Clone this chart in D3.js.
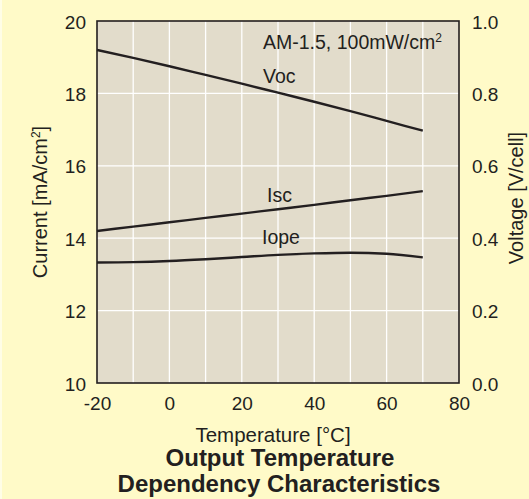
<!DOCTYPE html>
<html>
<head>
<meta charset="utf-8">
<script src="https://cdn.jsdelivr.net/npm/d3@7"></script>
<style>
  html, body { margin: 0; padding: 0; background: #fffac8; }
  svg { display: block; font-family: "Liberation Sans", Arial, sans-serif; }
</style>
</head>
<body>
<svg id="chart" width="529" height="499"></svg>
<script>
// temperature samples [°C]
const temps = [-20, -10, 0, 10, 20, 30, 40, 50, 60, 70];
// open circuit voltage [V/cell] (right axis)
const voc = [0.920, 0.898, 0.875, 0.851, 0.827, 0.802, 0.777, 0.751, 0.724, 0.697];
// short circuit current [mA/cm2]
const isc = [14.20, 14.32, 14.44, 14.56, 14.68, 14.80, 14.92, 15.05, 15.17, 15.30];
// operating current [mA/cm2]
const iope = [13.33, 13.34, 13.37, 13.42, 13.48, 13.54, 13.58, 13.60, 13.57, 13.47];

const xTicks = [-20, 0, 20, 40, 60, 80];
const xGrid = d3.range(-10, 80, 10);
const yTicks = [10, 12, 14, 16, 18, 20];
const vTicks = [0, 0.2, 0.4, 0.6, 0.8, 1.0];

const ink = "#231f20";
const svg = d3.select("#chart");
const width = 529, height = 499;
const margin = { top: 21, right: 70, bottom: 116, left: 97 };
const innerWidth = width - margin.left - margin.right;
const innerHeight = height - margin.top - margin.bottom;

// thin lighter strip on the left edge
svg.append("rect").attr("x", 0).attr("y", 0).attr("width", 2).attr("height", height).attr("fill", "#fffde6");

const g = svg.append("g").attr("transform", `translate(${margin.left},${margin.top})`);

const xScale = d3.scaleLinear().domain([-20, 80]).range([0, innerWidth]);
const yScale = d3.scaleLinear().domain([10, 20]).range([innerHeight, 0]);
const vScale = d3.scaleLinear().domain([0, 1]).range([innerHeight, 0]);

g.append("rect")
    .attr("width", innerWidth)
    .attr("height", innerHeight)
    .attr("fill", "#e2dccb");

// grid
g.selectAll(".vgrid").data(xGrid).enter().append("line")
    .attr("x1", d => xScale(d)).attr("x2", d => xScale(d))
    .attr("y1", 0).attr("y2", innerHeight)
    .attr("stroke", "#fff").attr("stroke-width", 1.3);
g.selectAll(".hgrid").data(yTicks.slice(1, -1)).enter().append("line")
    .attr("x1", 0).attr("x2", innerWidth)
    .attr("y1", d => yScale(d)).attr("y2", d => yScale(d))
    .attr("stroke", "#fff").attr("stroke-width", 1.3);

g.append("rect")
    .attr("width", innerWidth)
    .attr("height", innerHeight)
    .attr("fill", "none")
    .attr("stroke", ink)
    .attr("stroke-width", 1.6);

// axes (labels only)
const xAxis = d3.axisBottom(xScale).tickValues(xTicks).tickSize(0).tickPadding(13).tickFormat(d => String(d));
const yAxis = d3.axisLeft(yScale).tickValues(yTicks).tickSize(0).tickPadding(11).tickFormat(d => String(d));
const vAxis = d3.axisRight(vScale).tickValues(vTicks).tickSize(0).tickPadding(13).tickFormat(d => d.toFixed(1));

const xg = g.append("g").attr("transform", `translate(0,${innerHeight})`).call(xAxis);
const yg = g.append("g").call(yAxis);
const vg = g.append("g").attr("transform", `translate(${innerWidth},0)`).call(vAxis);
[xg, yg, vg].forEach(a => {
    a.attr("font-family", null).attr("font-size", 19);
    a.select(".domain").remove();
    a.selectAll(".tick line").remove();
    a.selectAll("text").attr("fill", ink).attr("dy", null);
});
xg.selectAll("text").attr("y", 27);
yg.selectAll("text").attr("y", 7);
vg.selectAll("text").attr("y", 7);

// lines
const lineI = d3.line().x((d, i) => xScale(temps[i])).y(d => yScale(d)).curve(d3.curveMonotoneX);
const lineV = d3.line().x((d, i) => xScale(temps[i])).y(d => vScale(d)).curve(d3.curveMonotoneX);

[[voc, lineV], [isc, lineI], [iope, lineI]].forEach(([vals, gen]) => {
    g.append("path")
        .datum(vals)
        .attr("fill", "none")
        .attr("stroke", ink)
        .attr("stroke-width", 2.4)
        .attr("d", gen);
});

// in-plot labels
const label = (x, y, txt) => svg.append("text").attr("x", x).attr("y", y)
    .attr("fill", ink).style("font-size", "19.5px").text(txt);
label(263, 83, "Voc");
label(267, 202, "Isc");
label(262, 244, "Iope");

const am = svg.append("text").attr("x", 263).attr("y", 49).attr("fill", ink).style("font-size", "19.5px");
am.append("tspan").text("AM-1.5, 100mW/cm");
am.append("tspan").attr("dy", -7).style("font-size", "12px").text("2");

// axis titles
const yt = svg.append("text")
    .attr("transform", `translate(47,${margin.top + innerHeight / 2}) rotate(-90)`)
    .attr("text-anchor", "middle").attr("fill", ink).style("font-size", "20px");
yt.append("tspan").text("Current [mA/cm");
yt.append("tspan").attr("dy", -7).style("font-size", "12px").text("2");
yt.append("tspan").attr("dy", 7).text("]");

svg.append("text")
    .attr("transform", `translate(523,${margin.top + innerHeight / 2 - 4}) rotate(-90)`)
    .attr("text-anchor", "middle").attr("fill", ink).style("font-size", "20px")
    .text("Voltage [V/cell]");

svg.append("text")
    .attr("x", margin.left + innerWidth / 2 - 5).attr("y", 442)
    .attr("text-anchor", "middle").attr("fill", ink).style("font-size", "20.5px")
    .text("Temperature [°C]");

svg.append("text")
    .attr("x", 280).attr("y", 466)
    .attr("text-anchor", "middle").attr("fill", ink)
    .style("font-size", "24px").style("font-weight", "bold")
    .text("Output Temperature");
svg.append("text")
    .attr("x", 279).attr("y", 492)
    .attr("text-anchor", "middle").attr("fill", ink)
    .style("font-size", "24px").style("font-weight", "bold")
    .text("Dependency Characteristics");
</script>
</body>
</html>
